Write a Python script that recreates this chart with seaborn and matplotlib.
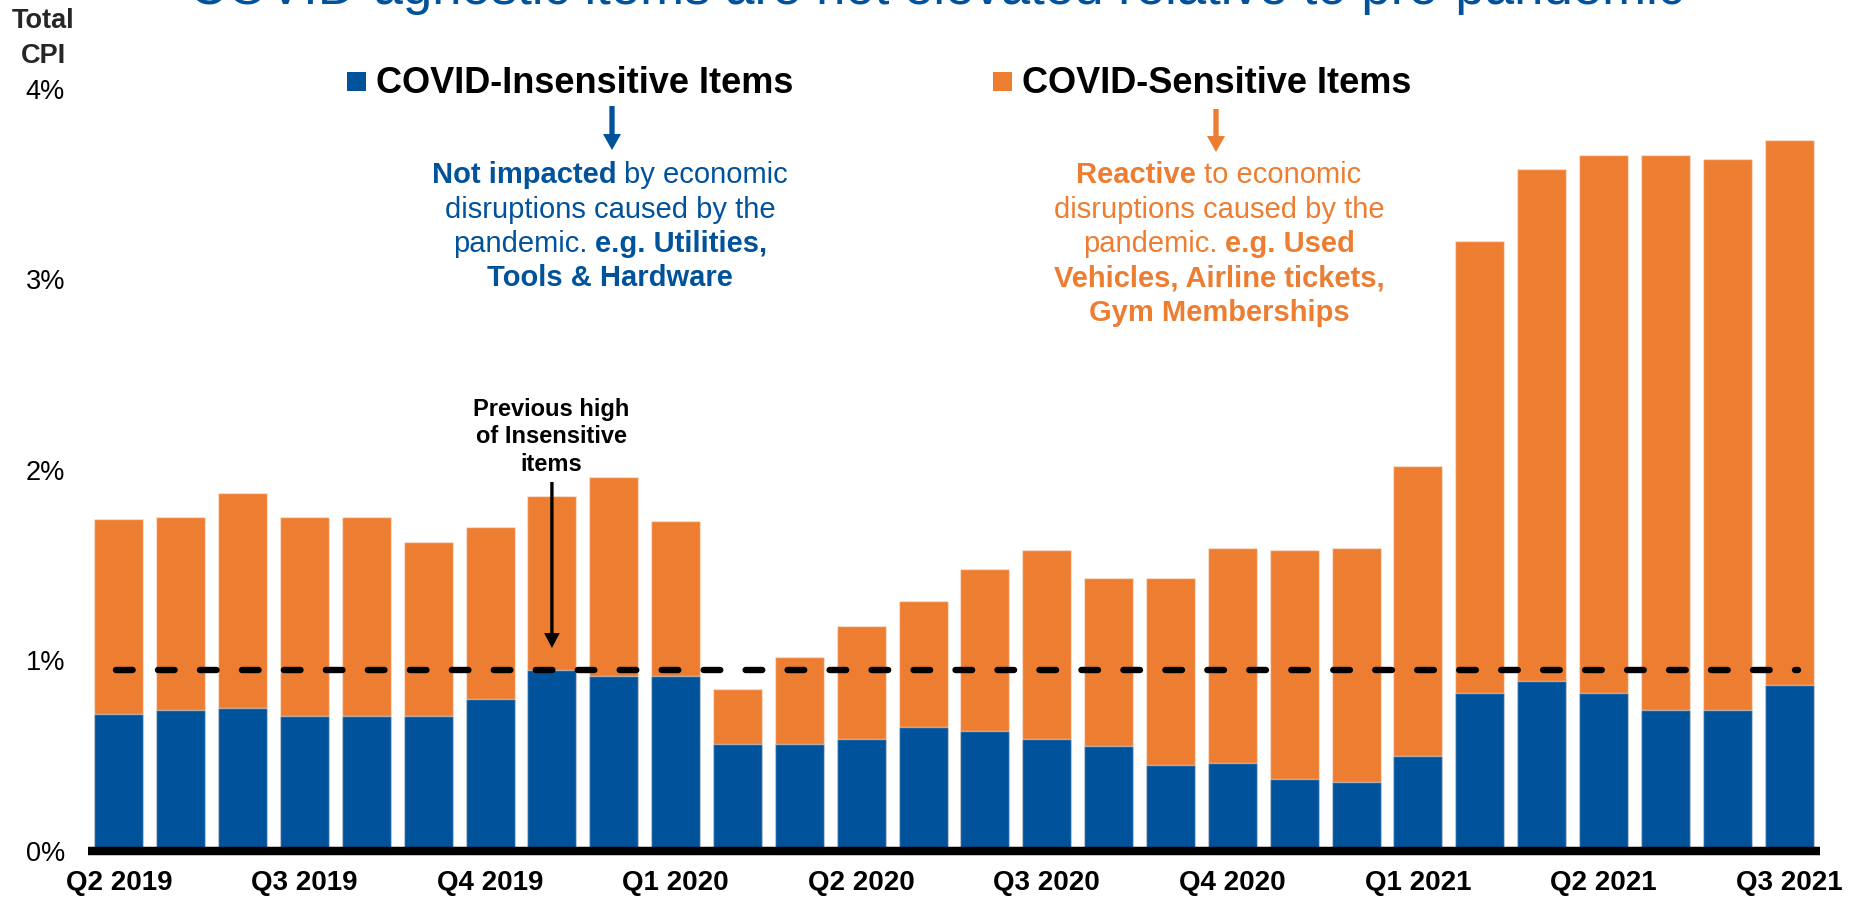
import matplotlib
matplotlib.use("Agg")
import matplotlib.pyplot as plt
from matplotlib.patches import Rectangle
import seaborn as sns
import pandas as pd

# Monthly contributions to year-over-year CPI (percentage points)
months = [
    "Apr 2019", "May 2019", "Jun 2019", "Jul 2019", "Aug 2019", "Sep 2019",
    "Oct 2019", "Nov 2019", "Dec 2019", "Jan 2020", "Feb 2020", "Mar 2020",
    "Apr 2020", "May 2020", "Jun 2020", "Jul 2020", "Aug 2020", "Sep 2020",
    "Oct 2020", "Nov 2020", "Dec 2020", "Jan 2021", "Feb 2021", "Mar 2021",
    "Apr 2021", "May 2021", "Jun 2021", "Jul 2021",
]
total_cpi = [
    1.74, 1.75, 1.88, 1.75, 1.75, 1.62, 1.70, 1.86, 1.96, 1.73,
    0.85, 1.02, 1.18, 1.31, 1.48, 1.58, 1.43, 1.43, 1.59, 1.58,
    1.59, 2.02, 3.20, 3.58, 3.65, 3.65, 3.63, 3.73,
]
insensitive = [
    0.72, 0.74, 0.75, 0.71, 0.71, 0.71, 0.80, 0.95, 0.92, 0.92,
    0.56, 0.56, 0.59, 0.65, 0.63, 0.59, 0.55, 0.45, 0.46, 0.38,
    0.36, 0.50, 0.83, 0.89, 0.83, 0.74, 0.74, 0.87,
]
quarter_labels = ["Q2 2019", "Q3 2019", "Q4 2019", "Q1 2020", "Q2 2020",
                  "Q3 2020", "Q4 2020", "Q1 2021", "Q2 2021", "Q3 2021"]
y_ticks = [0, 1, 2, 3, 4]
pre_pandemic_months = 10

BLUE = "#00529B"
ORANGE = "#ED7D31"
W, H, DPI = 1853, 899, 100

sns.set_theme(style="white")
plt.rcParams["font.family"] = ["Liberation Sans", "DejaVu Sans"]

fig = plt.figure(figsize=(W / DPI, H / DPI), dpi=DPI)
ax = fig.add_axes([88 / W, 1 - 851 / H, 1732 / W, (851 - 50.5) / H])

df = pd.DataFrame({"month": months, "total": total_cpi, "insensitive": insensitive})
bar_kw = dict(order=months, saturation=1, width=0.79, errorbar=None,
              edgecolor=(1, 1, 1, 0.45), linewidth=1, ax=ax)
sns.barplot(data=df, x="month", y="total", color=ORANGE, **bar_kw)
sns.barplot(data=df, x="month", y="insensitive", color=BLUE, **bar_kw)

# Pre-pandemic high of the insensitive component
prev_high = max(insensitive[:pre_pandemic_months])
ax.plot([-0.05, len(months) - 0.85], [prev_high, prev_high], color="black",
        lw=4.6, dashes=(2.6, 3.97), dash_capstyle="round", zorder=5)

ax.set_xlim(-0.5, len(months) - 0.5)
ax.set_ylim(0, 4.2)
ax.set_xticks(range(0, len(months), 3))
ax.set_xticklabels(quarter_labels, fontsize=20, fontweight="bold", color="black")
ax.set_yticks(y_ticks)
ax.set_yticklabels([f"{v}%" for v in y_ticks], fontsize=19.5, color="black")
ax.tick_params(axis="both", length=0)
ax.tick_params(axis="y", pad=16.5)
ax.tick_params(axis="x", pad=14)
ax.set_xlabel("")
ax.set_ylabel("")
ax.grid(False)
for side in ("left", "right", "top"):
    ax.spines[side].set_visible(False)
ax.spines["bottom"].set_color("black")
ax.spines["bottom"].set_linewidth(6.1)
ax.spines["bottom"].set_capstyle("butt")


def fx(px):
    return px / W


def fy(py):
    return 1 - py / H


# Title running off the top edge
fig.text(fx(937), fy(4), "COVID-agnostic items are not elevated relative to pre-pandemic",
         fontsize=38, color=BLUE, ha="center", va="baseline")

# Axis caption
fig.text(fx(43), fy(28), "Total", fontsize=19.5, fontweight="bold", ha="center", va="baseline")
fig.text(fx(43), fy(63), "CPI", fontsize=19.5, fontweight="bold", ha="center", va="baseline")

# Legend entries
for x_sq, x_txt, color, label in [(347, 376, BLUE, "COVID-Insensitive Items"),
                                  (993, 1022, ORANGE, "COVID-Sensitive Items")]:
    fig.add_artist(Rectangle((fx(x_sq), fy(91)), 19 / W, 19 / H,
                             transform=fig.transFigure, color=color, lw=0))
    fig.text(fx(x_txt), fy(93), label, fontsize=26, fontweight="bold",
             color="black", ha="left", va="baseline")

renderer = fig.canvas.get_renderer()


def rich_line(x_center, y_base, parts, color, size):
    space = size * DPI / 72 * 0.278
    texts = [fig.text(0, fy(y_base), s, fontsize=size, fontweight=w, color=color,
                      ha="left", va="baseline") for s, w in parts]
    widths = [t.get_window_extent(renderer).width for t in texts]
    total = sum(widths) + space * (len(texts) - 1)
    x = x_center - total / 2
    for t, w in zip(texts, widths):
        t.set_x(fx(x))
        x += w + space


B, N = "bold", "normal"
blue_lines = [
    [("Not impacted", B), ("by economic", N)],
    [("disruptions caused by the", N)],
    [("pandemic.", N), ("e.g. Utilities,", B)],
    [("Tools & Hardware", B)],
]
orange_lines = [
    [("Reactive", B), ("to economic", N)],
    [("disruptions caused by the", N)],
    [("pandemic.", N), ("e.g. Used", B)],
    [("Vehicles, Airline tickets,", B)],
    [("Gym Memberships", B)],
]
for i, parts in enumerate(blue_lines):
    rich_line(610, 183 + 34.5 * i, parts, BLUE, 21)
for i, parts in enumerate(orange_lines):
    rich_line(1219, 183 + 34.5 * i, parts, ORANGE, 21)

# Down arrows from the legend entries
for x_px, y0, y1, color in [(612, 106, 150, BLUE), (1216, 109, 152, ORANGE)]:
    ax.annotate("", xy=(x_px, H - y1), xytext=(x_px, H - y0),
                xycoords="figure pixels", textcoords="figure pixels",
                annotation_clip=False,
                arrowprops=dict(facecolor=color, edgecolor="none", width=3.8,
                                headwidth=13, headlength=11.5, shrink=0))

# Callout on the previous high
for i, line in enumerate(["Previous high", "of Insensitive", "items"]):
    fig.text(fx(551), fy(416 + 27.5 * i), line, fontsize=17, fontweight="bold",
             color="black", ha="center", va="baseline")
ax.annotate("", xy=(7, 1.065), xytext=(7, 1.936), xycoords="data",
            arrowprops=dict(facecolor="black", edgecolor="none", width=2.4,
                            headwidth=11.3, headlength=10.8, shrink=0))

fig.savefig("out.png", dpi=DPI)
